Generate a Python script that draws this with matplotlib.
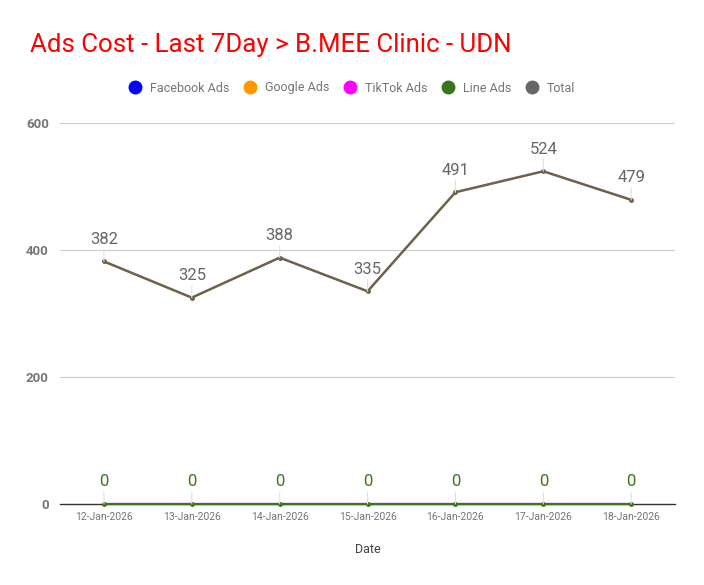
import matplotlib.pyplot as plt

plt.rcParams['font.family'] = ['Roboto', 'DejaVu Sans']

# Data
dates = ["12-Jan-2026", "13-Jan-2026", "14-Jan-2026", "15-Jan-2026",
         "16-Jan-2026", "17-Jan-2026", "18-Jan-2026"]
facebook_ads = [0, 0, 0, 0, 0, 0, 0]
google_ads = [0, 0, 0, 0, 0, 0, 0]
tiktok_ads = [0, 0, 0, 0, 0, 0, 0]
line_ads = [0, 0, 0, 0, 0, 0, 0]
total = [382, 325, 388, 335, 491, 524, 479]

series_names = ["Facebook Ads", "Google Ads", "TikTok Ads", "Line Ads", "Total"]
series_colors = ["#0000ff", "#ff9900", "#ff00ff", "#38761d", "#666666"]
total_line_color = "#6f604a"

fig = plt.figure(figsize=(7.04, 5.85), dpi=100)
ax = fig.add_axes([0.0852, 0.1385, 0.8738, 0.6512])

x = list(range(len(dates)))

# Gridlines
for v in [200, 400, 600]:
    ax.axhline(v, color="#cccccc", lw=0.8, zorder=0)

# baseline, then the zero series on top of it
ax.axhline(0, color="#333333", lw=1.0, zorder=1, clip_on=False)
for vals, c in zip([facebook_ads, google_ads, tiktok_ads], series_colors[:3]):
    ax.plot(x, vals, color=c, lw=1.5, zorder=2, clip_on=False)
ax.plot(x, line_ads, color=series_colors[3], lw=1.5, zorder=3,
        marker="o", markersize=2.5, clip_on=False)
ax.plot(x, total, color=total_line_color, lw=1.8, zorder=3,
        marker="o", markersize=2.5)

# Data labels with leader lines
def label(xs, ys, color):
    for xi, yi in zip(xs, ys):
        ax.annotate(str(yi), (xi, yi), xytext=(0, 10.5), textcoords="offset points",
                    ha="center", va="bottom", fontsize=12, color=color,
                    arrowprops=dict(arrowstyle="-", color="#e0e0e0", lw=0.8,
                                    shrinkA=0, shrinkB=0))

label(x, total, "#666666")
label(x, line_ads, series_colors[3])

ax.set_xlim(-0.5, len(dates) - 0.5)
ax.set_ylim(0, 600)
ax.set_yticks([0, 200, 400, 600])
ax.set_yticklabels(["0", "200", "400", "600"], fontweight="bold", color="#757575", fontsize=9.5)
ax.set_xticks(x)
ax.set_xticklabels(dates, fontsize=7.5, color="#757575")
ax.tick_params(axis="both", length=0, pad=6)
ax.tick_params(axis="y", pad=8)
for s in ax.spines.values():
    s.set_visible(False)

ax.set_xlabel("Date", fontsize=9, color="#444444", labelpad=15)

# Title
fig.text(30 / 704, 1 - 45 / 585, "Ads Cost - Last 7Day > B.MEE Clinic - UDN",
         color="#ff0000", fontsize=18.6, va="center", ha="left")

# Legend
handles = [plt.Line2D([], [], marker="o", color=c, linestyle="none", markersize=9)
           for c in series_colors]
fig.legend(handles, series_names, loc="center", bbox_to_anchor=(0.5, 1 - 88 / 585),
           ncol=5, frameon=False, fontsize=9, labelcolor="#757575",
           handlelength=1.0, handletextpad=0.7, columnspacing=1.15)

fig.savefig("out.png", dpi=100)
